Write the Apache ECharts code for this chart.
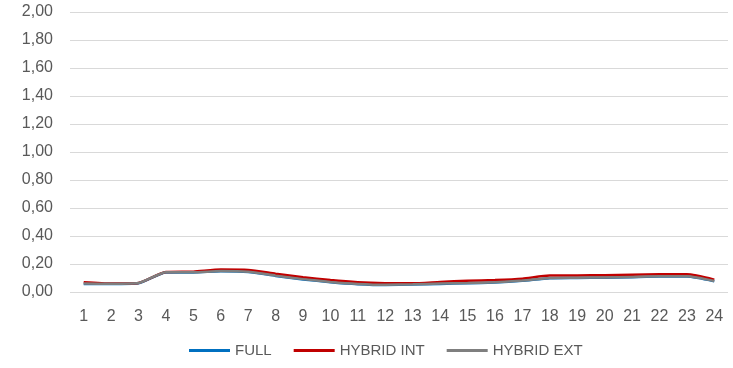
<!DOCTYPE html>
<html>
<head>
<meta charset="utf-8">
<script src="https://cdn.jsdelivr.net/npm/echarts@6/dist/echarts.min.js"></script>
<style>
  html, body { margin: 0; padding: 0; background: #fff; }
  #chart { width: 733px; height: 368px; }
</style>
</head>
<body>
<div id="chart"></div>
<script>
// Hours of the day
const hours = ['1','2','3','4','5','6','7','8','9','10','11','12','13','14','15','16','17','18','19','20','21','22','23','24'];

// Values per hour for each configuration
const fullValues = [0.058,0.057,0.062,0.140,0.140,0.148,0.143,0.115,0.090,0.070,0.056,0.050,0.053,0.058,0.062,0.068,0.080,0.098,0.100,0.102,0.106,0.110,0.110,0.076];
const hybridIntValues = [0.070,0.060,0.065,0.142,0.145,0.160,0.158,0.130,0.105,0.085,0.070,0.063,0.062,0.072,0.080,0.085,0.095,0.118,0.118,0.120,0.124,0.126,0.126,0.088];
const hybridExtValues = [0.060,0.059,0.064,0.141,0.141,0.150,0.145,0.117,0.092,0.072,0.058,0.052,0.055,0.060,0.064,0.070,0.082,0.100,0.102,0.104,0.108,0.112,0.112,0.078];

const yTicks = { min: 0, max: 2, interval: 0.2 };

const chart = echarts.init(document.getElementById('chart'));
const font = 'Liberation Sans, Arial, sans-serif';

function lineSeries(name, data, color) {
  return {
    name: name,
    type: 'line',
    data: data,
    smooth: 0.2,
    showSymbol: false,
    symbol: 'none',
    lineStyle: { color: color, width: 2.5 },
    itemStyle: { color: color }
  };
}

chart.setOption({
  animation: false,
  grid: { left: 70, right: 5, top: 12, bottom: 76 },
  legend: {
    bottom: 5,
    left: 184,
    icon: 'rect',
    itemWidth: 41,
    itemHeight: 3,
    itemGap: 22,
    textStyle: { color: '#595959', fontSize: 15, fontFamily: font },
    data: ['FULL', 'HYBRID INT', 'HYBRID EXT']
  },
  xAxis: {
    type: 'category',
    data: hours,
    boundaryGap: true,
    axisLine: { show: false },
    axisTick: { show: false },
    axisLabel: { color: '#595959', fontSize: 16, fontFamily: font, margin: 17 }
  },
  yAxis: {
    type: 'value',
    min: yTicks.min,
    max: yTicks.max,
    interval: yTicks.interval,
    axisLine: { show: false },
    axisTick: { show: false },
    splitLine: { lineStyle: { color: '#d9d9d9', width: 1 } },
    axisLabel: {
      color: '#595959', fontSize: 16, fontFamily: font, margin: 17,
      formatter: v => v.toFixed(2).replace('.', ',')
    }
  },
  series: [
    lineSeries('FULL', fullValues, '#0070C0'),
    lineSeries('HYBRID INT', hybridIntValues, '#C00000'),
    lineSeries('HYBRID EXT', hybridExtValues, '#7F7F7F')
  ]
});
</script>
</body>
</html>
